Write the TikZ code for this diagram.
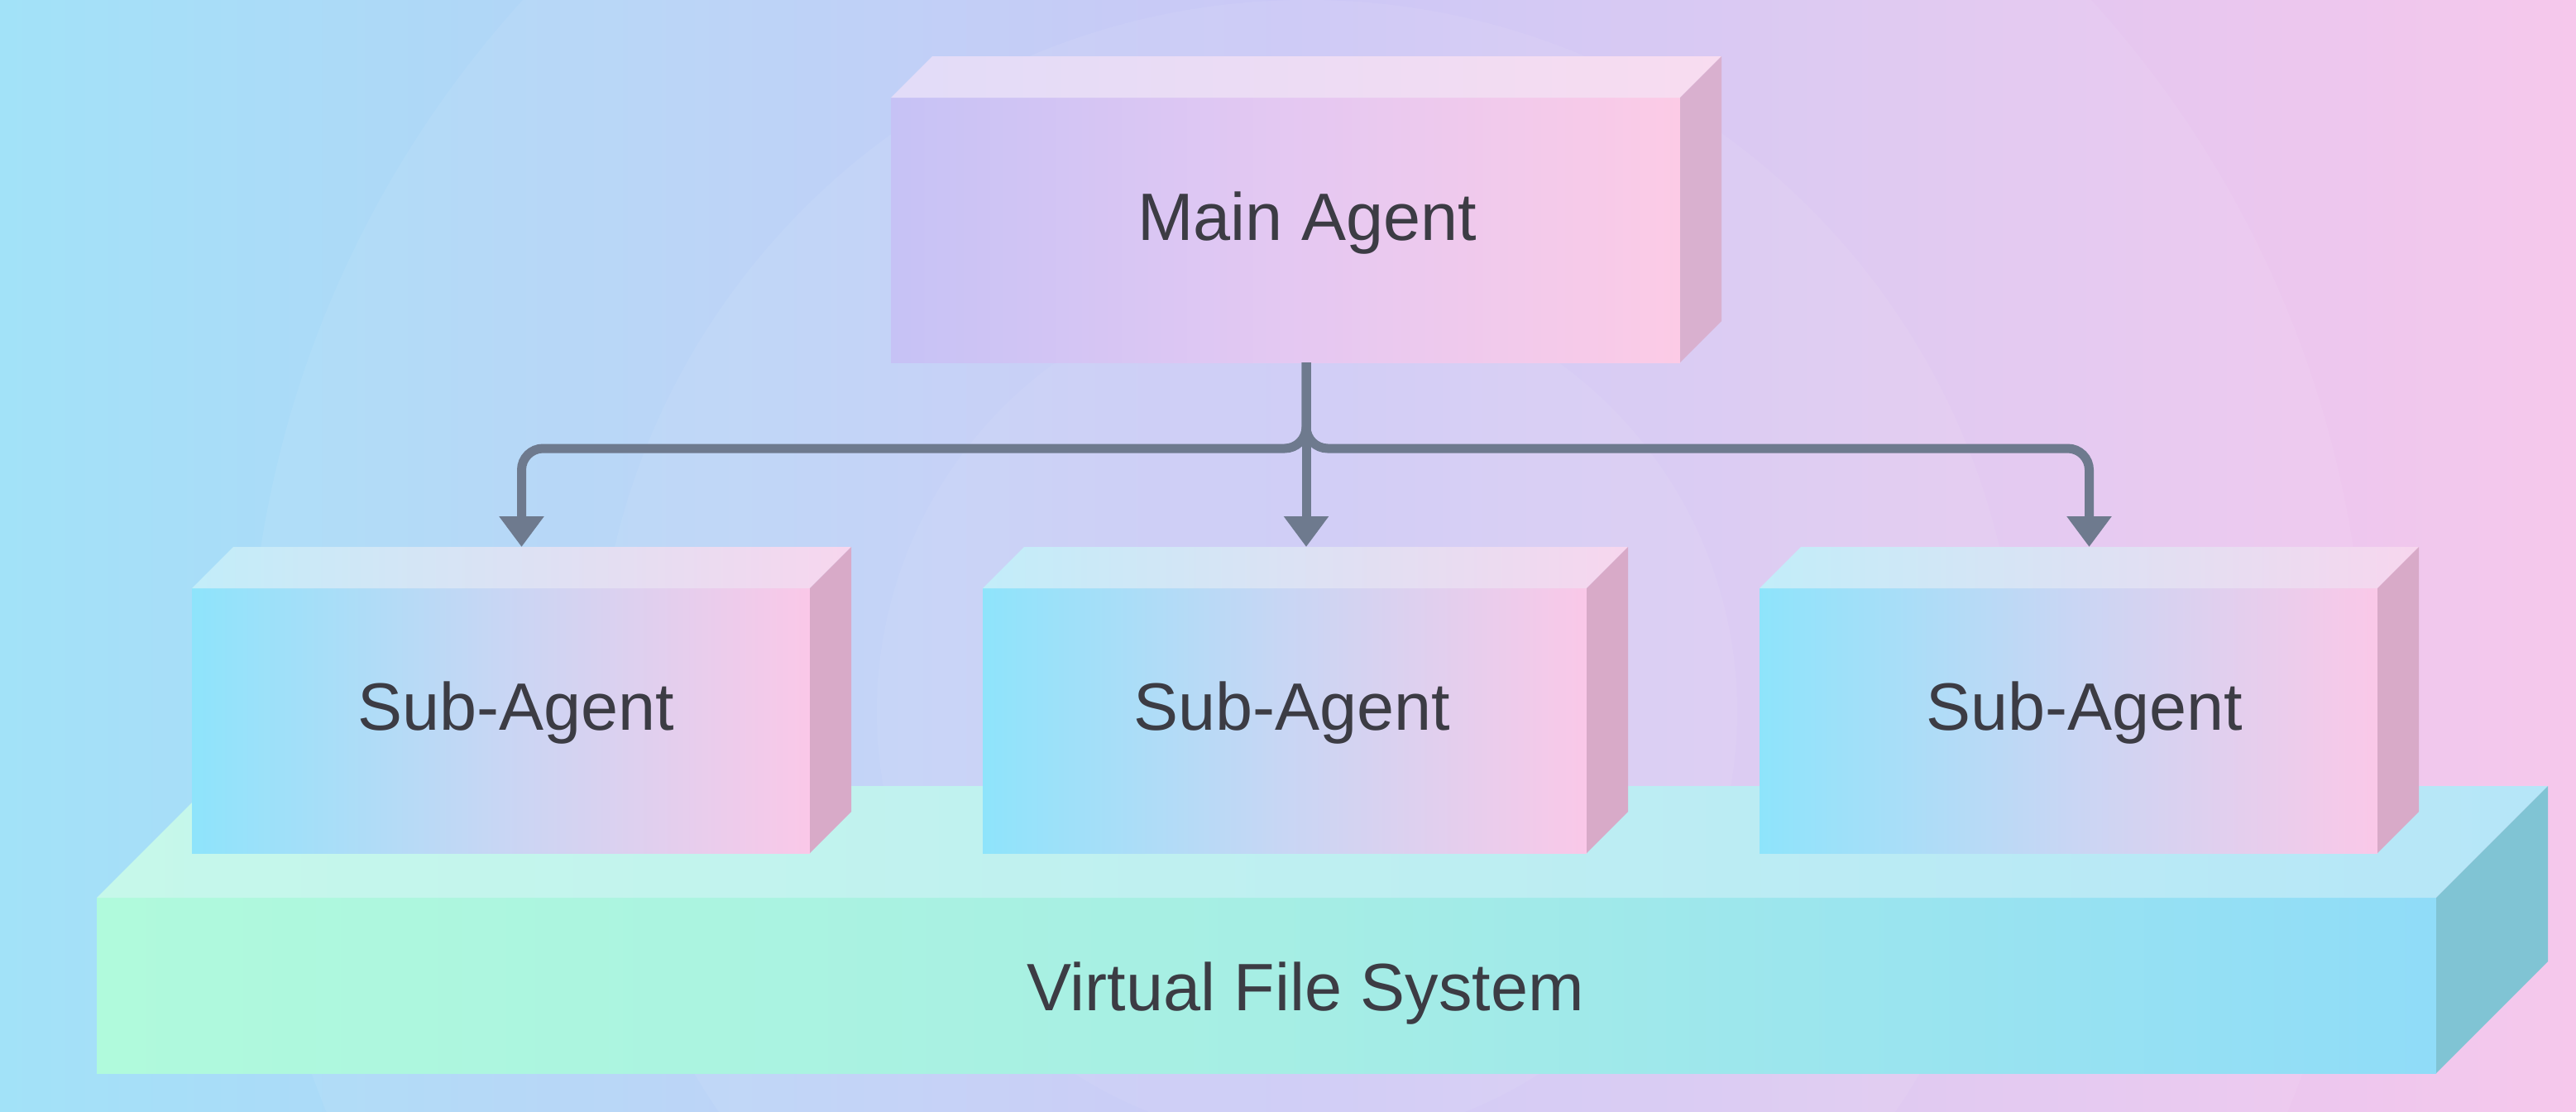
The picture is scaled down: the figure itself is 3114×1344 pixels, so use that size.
\documentclass[tikz,border=0pt]{standalone}
\usepackage{fontspec}
\setmainfont{Liberation Sans}
\usetikzlibrary{arrows.meta,calc}
\definecolor{bgL}{HTML}{A2E2F8}
\definecolor{bgM}{HTML}{C8C4F6}
\definecolor{bgR}{HTML}{F6C8EC}
\definecolor{mainL}{HTML}{C6C2F5}
\definecolor{mainM}{HTML}{E4C8F2}
\definecolor{mainR}{HTML}{FCCBE6}
\definecolor{mainTL}{HTML}{E2DCF8}
\definecolor{mainTR}{HTML}{F8DCF0}
\definecolor{mainS}{HTML}{D9B0CF}
\definecolor{subL}{HTML}{8EE4FB}
\definecolor{subM}{HTML}{C8D6F4}
\definecolor{subR}{HTML}{FAC8E8}
\definecolor{subTL}{HTML}{C2EDF9}
\definecolor{subTR}{HTML}{F7D6EE}
\definecolor{subS}{HTML}{D8AAC8}
\definecolor{fsL}{HTML}{B0FADC}
\definecolor{fsM}{HTML}{A6EEE4}
\definecolor{fsR}{HTML}{90DCF8}
\definecolor{fsTL}{HTML}{C6F8EA}
\definecolor{fsTR}{HTML}{B6E6F8}
\definecolor{fsS}{HTML}{80C4D4}
\definecolor{arrowc}{HTML}{6E7A8E}
\definecolor{txt}{HTML}{3C3C44}
\tikzset{
  mainfront/.style={left color=mainL, right color=mainR, middle color=mainM, inner sep=0pt, outer sep=0pt},
  maintop/.style={left color=mainTL, right color=mainTR},
  mainside/.style={fill=mainS},
  subfront/.style={left color=subL, right color=subR, middle color=subM, inner sep=0pt, outer sep=0pt},
  subtop/.style={left color=subTL, right color=subTR},
  subside/.style={fill=subS},
  fsfront/.style={left color=fsL, right color=fsR, middle color=fsM, inner sep=0pt, outer sep=0pt},
  fstop/.style={left color=fsTL, right color=fsTR},
  fsside/.style={fill=fsS},
  lbl/.style={text=txt, font=\fontsize{81pt}{97pt}\selectfont, inner sep=0pt, anchor=base},
  link/.style={draw=arrowc, line width=11pt, rounded corners=26pt, -{Triangle[length=37pt,width=52pt]}},
}
\newcommand{\prism}[7]{%
  \node[#7front, minimum width=#4pt, minimum height=#5pt, anchor=north west] (#1) at (#2,#3) {};
  \shade[#7top] (#1.north west) -- ++(#6,-#6) -- ++(#4,0) -- (#1.north east) -- cycle;
  \fill[#7side] (#1.north east) -- ++(#6,-#6) -- ++(0,#5) -- (#1.south east) -- cycle;
}
\begin{document}
\begin{tikzpicture}[x=1pt,y=-1pt]
\useasboundingbox (0,0) rectangle (3114,1344);
\begin{scope}
\clip (0,0) rectangle (3114,1344);
\shade[left color=bgL, right color=bgR, middle color=bgM] (0,0) rectangle (3114,1344);
\fill[white, opacity=0.07] (1580,860) circle[radius=1280pt];
\fill[white, opacity=0.07] (1580,860) circle[radius=860pt];
\fill[white, opacity=0.06] (1580,860) circle[radius=520pt];
\end{scope}
% virtual file system
\prism{fs}{117}{1085}{2828}{212}{135}{fs}
% sub-agents
\prism{sub1}{232}{711}{747}{320}{50}{sub}
\prism{sub2}{1188}{711}{730}{320}{50}{sub}
\prism{sub3}{2127}{711}{747}{320}{50}{sub}
% main agent
\prism{main}{1077}{118}{954}{320}{50}{main}
% labels
\node[lbl] (mainlbl) at (1580,290) {Main Agent};
\node[lbl] (sub1lbl) at (624,882) {Sub-Agent};
\node[lbl] (sub2lbl) at (1562,882) {Sub-Agent};
\node[lbl] (sub3lbl) at (2520,882) {Sub-Agent};
\node[lbl] (fslbl) at (1578,1221) {Virtual File System};
% connectors
\coordinate (msrc) at ($(main.south)+(25,0)$);
\coordinate (jn) at ($(msrc)+(0,104)$);
\coordinate (t1) at ($(sub1.north)+(25,-50)$);
\coordinate (t2) at ($(sub2.north)+(25,-50)$);
\coordinate (t3) at ($(sub3.north)+(25,-50)$);
\draw[link] (msrc) -- (jn) -| (t1);
\draw[link] (msrc) -- (jn) -| (t3);
\draw[link] (msrc) -- (msrc |- t2);
\end{tikzpicture}
\end{document}
